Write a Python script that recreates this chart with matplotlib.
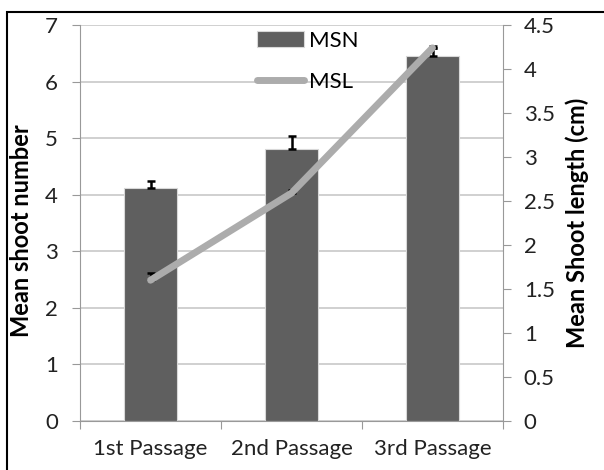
import numpy as np
import matplotlib.pyplot as plt
from matplotlib.patches import Rectangle

plt.rcParams['font.family'] = ['Lato', 'DejaVu Sans']

passages = ['1st Passage', '2nd Passage', '3rd Passage']
msn = [4.11, 4.81, 6.45]
msn_err = [0.13, 0.22, 0.15]
msl = [1.60, 2.59, 4.24]
msl_err = [0.08, 0.03, 0.02]

W, H = 604, 470
fig = plt.figure(figsize=(W / 100, H / 100), dpi=100)
# plot area in pixels: x 80..503, y 25..421
ax = fig.add_axes([80 / W, (H - 421) / H, 423 / W, 396 / H])
x = np.arange(len(passages))

ax.set_axisbelow(True)
ax.yaxis.grid(True, color='#c8c8c8', lw=1.2)
bars = ax.bar(x, msn, width=0.38, color='#5f5f5f', edgecolor='#d8d8d8',
              linewidth=0.8, label='MSN', zorder=2)
ax.errorbar(x, msn, yerr=[[0, 0, 0], msn_err], fmt='none', ecolor='black',
            elinewidth=1.8, capsize=3, capthick=1.8, zorder=3)
ax.set_xlim(-0.5, 2.5)
ax.set_ylim(0, 7)
ax.set_yticks(range(8))
ax.set_xticks([-0.5, 0.5, 1.5, 2.5], minor=False)
ax.set_xticklabels([])
ax.set_xticks(x, minor=True)
ax.set_xticklabels(passages, minor=True)
ax.tick_params(axis='x', which='minor', length=0, labelsize=16, pad=13, colors='#222222')
ax.tick_params(axis='x', which='major', length=6, color='#999999')
ax.tick_params(axis='y', length=6, color='#999999', labelsize=16, labelcolor='#222222', pad=10)
for s in ['top', 'right']:
    ax.spines[s].set_visible(False)
for s in ['left', 'bottom']:
    ax.spines[s].set_color('#999999')
ax.set_ylabel('Mean shoot number', fontsize=17, fontweight='bold')
ax.yaxis.set_label_coords((33 - 80) / 423, 0.48)

ax2 = ax.twinx()
line, = ax2.plot(x, msl, color='#acacac', lw=5, solid_capstyle='round', label='MSL', zorder=4)
ax2.errorbar(x, msl, yerr=[[0, 0, 0], msl_err], fmt='none', ecolor='black',
             elinewidth=1.8, capsize=3, capthick=1.8, zorder=3)
ax2.set_ylim(0, 4.5)
ax2.set_yticks(np.arange(0, 4.51, 0.5))
ax2.set_yticklabels(['0', '0.5', '1', '1.5', '2', '2.5', '3', '3.5', '4', '4.5'])
ax2.tick_params(axis='y', length=6, color='#999999', labelsize=16, labelcolor='#222222', pad=9)
for s in ['top', 'left', 'bottom']:
    ax2.spines[s].set_visible(False)
ax2.spines['right'].set_color('#999999')
ax2.set_ylabel('Mean Shoot length (cm)', fontsize=17, fontweight='bold')
ax2.yaxis.set_label_coords((565 - 80) / 423, 0.5)

leg = ax.legend([bars, line], ['MSN', 'MSL'], loc='upper left',
                bbox_to_anchor=((257 - 80) / 423, 0.985), frameon=False, fontsize=16,
                borderpad=0, borderaxespad=0,
                handlelength=2.1, handletextpad=0.25, labelspacing=0.95)
for h in leg.legend_handles:
    if hasattr(h, 'set_solid_capstyle'):
        h.set_solid_capstyle('round')

fig.patches.append(Rectangle((7 / W, -0.1), 1.1, 458 / H + 0.1,
                             transform=fig.transFigure, fill=False,
                             edgecolor='black', lw=1.5))

fig.savefig('out.png', dpi=100)
